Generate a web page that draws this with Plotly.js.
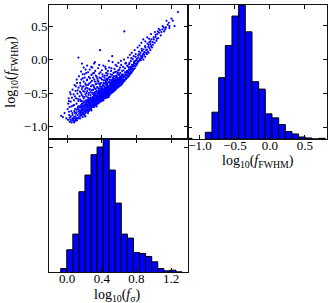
<!DOCTYPE html>
<html><head><meta charset="utf-8">
<script src="https://cdn.plot.ly/plotly-3.0.1.min.js"></script>
<style>html,body{margin:0;padding:0;background:#fff}#chart{width:330px;height:303px}</style>
</head><body><div id="chart"></div>
<script>
// scatter: log10(f_sigma) vs log10(f_FWHM) -- main set
const logSigma = [
-0.07,-0.05,-0.03,-0.01,
0.01,0.02,0.03,0.04,0.05,0.05,0.06,0.02,0.04,0.06,0.03,0.07,
0.08,0.09,0.10,0.11,0.12,0.13,0.08,0.09,0.10,0.11,0.12,0.13,0.14,0.12,0.13,0.10,0.14,0.11,0.09,0.13,
0.15,0.15,0.15,0.15,0.16,0.16,0.16,0.16,0.16,0.17,0.17,0.17,0.17,0.17,0.18,0.18,0.18,0.18,0.18,0.18,0.19,0.19,0.19,0.19,0.19,0.20,0.20,0.20,0.20,0.20,0.20,0.21,0.21,0.21,0.21,0.21,0.15,0.17,0.19,0.21,
0.22,0.22,0.22,0.22,0.22,0.22,0.23,0.23,0.23,0.23,0.23,0.23,0.24,0.24,0.24,0.24,0.24,0.24,0.25,0.25,0.25,0.25,0.25,0.25,0.26,0.26,0.26,0.26,0.26,0.26,0.27,0.27,0.27,0.27,0.27,0.27,0.28,0.28,0.28,0.28,0.28,0.28,0.22,0.24,0.26,0.23,0.25,0.27,
0.29,0.29,0.29,0.29,0.29,0.29,0.29,0.30,0.30,0.30,0.30,0.30,0.30,0.30,0.31,0.31,0.31,0.31,0.31,0.31,0.31,0.32,0.32,0.32,0.32,0.32,0.32,0.32,0.33,0.33,0.33,0.33,0.33,0.33,0.33,0.34,0.34,0.34,0.34,0.34,0.34,0.34,0.35,0.35,0.35,0.35,0.35,0.35,0.29,0.30,0.31,0.32,0.33,0.34,0.35,0.31,
0.36,0.36,0.36,0.36,0.36,0.36,0.36,0.37,0.37,0.37,0.37,0.37,0.37,0.37,0.38,0.38,0.38,0.38,0.38,0.38,0.38,0.39,0.39,0.39,0.39,0.39,0.39,0.39,0.40,0.40,0.40,0.40,0.40,0.40,0.40,0.41,0.41,0.41,0.41,0.41,0.41,0.41,0.42,0.42,0.42,0.42,0.42,0.42,0.36,0.37,0.38,0.39,0.40,0.41,0.42,0.37,0.39,0.40,0.41,0.38,
0.43,0.43,0.43,0.43,0.43,0.43,0.43,0.44,0.44,0.44,0.44,0.44,0.44,0.44,0.45,0.45,0.45,0.45,0.45,0.45,0.45,0.46,0.46,0.46,0.46,0.46,0.46,0.46,0.47,0.47,0.47,0.47,0.47,0.47,0.47,0.48,0.48,0.48,0.48,0.48,0.48,0.48,0.49,0.49,0.49,0.49,0.49,0.49,0.43,0.44,0.45,0.46,0.47,0.48,0.49,0.44,0.46,0.48,0.45,0.47,0.43,0.49,0.46,0.44,
0.50,0.50,0.50,0.50,0.50,0.50,0.51,0.51,0.51,0.51,0.51,0.51,0.52,0.52,0.52,0.52,0.52,0.52,0.53,0.53,0.53,0.53,0.53,0.53,0.54,0.54,0.54,0.54,0.54,0.54,0.55,0.55,0.55,0.55,0.55,0.55,0.56,0.56,0.56,0.56,0.56,0.56,0.50,0.52,0.54,0.51,0.53,0.55,0.52,0.56,
0.57,0.57,0.57,0.57,0.57,0.58,0.58,0.58,0.58,0.58,0.59,0.59,0.59,0.59,0.59,0.60,0.60,0.60,0.60,0.61,0.61,0.61,0.61,0.61,0.62,0.62,0.62,0.62,0.63,0.63,0.63,0.63,0.60,0.62,
0.64,0.64,0.64,0.65,0.65,0.65,0.66,0.66,0.66,0.67,0.67,0.67,0.68,0.68,0.68,0.69,0.69,0.70,0.70,0.70,
0.71,0.71,0.71,0.72,0.72,0.72,0.73,0.73,0.74,0.74,0.74,0.75,0.75,0.76,0.76,0.77,0.77,
0.78,0.78,0.79,0.79,0.80,0.80,0.81,0.82,0.82,0.83,0.83,0.84,
0.85,0.85,0.86,0.86,0.87,0.88,0.88,0.89,0.90,0.90,0.91,
0.92,0.92,0.93,0.94,0.94,0.95,0.96,0.96,0.97,0.98,
0.99,1.00,1.01,1.02,1.03,1.04,1.05,1.06,1.08,1.10,1.12,1.14,1.16,1.18,1.18,1.22,1.24,1.28
];
const logFwhm = [
-0.84,-0.86,-0.80,-0.88,
-0.90,-0.78,-0.93,-0.85,-0.94,-0.70,-0.88,-0.62,-0.52,-0.80,-0.87,-0.91,
-0.86,-0.80,-0.90,-0.75,-0.83,-0.78,-0.68,-0.55,-0.40,-0.88,-0.72,-0.62,-0.85,-0.46,0.03,-0.81,-0.76,-0.30,-0.92,-0.70,
-0.80,-0.72,-0.60,-0.35,-0.84,-0.76,-0.68,-0.50,-0.18,-0.82,-0.74,-0.70,-0.62,-0.44,-0.79,-0.73,-0.66,-0.55,-0.28,-0.86,-0.81,-0.75,-0.69,-0.58,-0.40,-0.83,-0.77,-0.71,-0.64,-0.48,-0.22,-0.80,-0.74,-0.67,-0.52,-0.36,-0.88,-0.06,-0.12,-0.85,
-0.78,-0.70,-0.63,-0.55,-0.42,-0.20,-0.76,-0.68,-0.61,-0.47,-0.30,-0.09,-0.74,-0.69,-0.64,-0.57,-0.38,-0.80,-0.72,-0.66,-0.60,-0.50,-0.26,-0.77,-0.70,-0.65,-0.58,-0.44,-0.15,-0.75,-0.73,-0.67,-0.62,-0.53,-0.34,-0.69,-0.71,-0.64,-0.59,-0.46,-0.23,-0.76,-0.66,-0.61,-0.68,-0.72,-0.63,-0.57,
-0.70,-0.64,-0.58,-0.50,-0.38,-0.12,-0.61,-0.68,-0.62,-0.56,-0.45,-0.27,-0.66,-0.59,-0.71,-0.65,-0.60,-0.53,-0.41,-0.20,-0.57,-0.69,-0.63,-0.58,-0.49,-0.33,-0.04,-0.61,-0.67,-0.62,-0.55,-0.44,-0.24,-0.59,-0.64,-0.70,-0.60,-0.54,-0.47,-0.36,-0.57,-0.63,-0.66,-0.61,-0.56,-0.50,-0.29,-0.58,-0.67,-0.52,-0.62,-0.54,-0.51,-0.65,-0.42,-0.06,
-0.64,-0.59,-0.54,-0.47,-0.33,-0.56,-0.61,-0.62,-0.57,-0.52,-0.43,-0.21,-0.55,-0.60,-0.63,-0.58,-0.53,-0.46,-0.37,-0.55,0.14,-0.61,-0.56,-0.51,-0.44,-0.28,-0.53,-0.58,-0.62,-0.57,-0.50,-0.41,-0.16,-0.54,-0.59,-0.60,-0.55,-0.49,-0.39,-0.25,-0.52,-0.57,-0.61,-0.56,-0.48,-0.35,-0.53,-0.58,-0.50,-0.48,-0.60,-0.47,-0.45,-0.44,-0.51,-0.08,-0.62,-0.52,-0.58,-0.50,
-0.57,-0.52,-0.47,-0.40,-0.27,-0.50,-0.55,-0.58,-0.53,-0.48,-0.42,-0.31,-0.11,-0.51,-0.56,-0.51,-0.46,-0.38,-0.20,-0.49,-0.54,-0.55,-0.50,-0.45,-0.36,-0.24,-0.48,-0.53,-0.56,-0.49,-0.44,-0.39,-0.29,-0.47,-0.52,-0.54,-0.48,-0.43,-0.34,-0.02,-0.46,-0.51,-0.53,-0.47,-0.42,-0.33,-0.45,-0.50,-0.44,-0.45,-0.43,-0.41,-0.41,-0.40,-0.39,-0.56,-0.57,-0.56,-0.33,-0.17,-0.36,-0.26,-0.47,-0.49,
-0.51,-0.46,-0.41,-0.35,-0.22,-0.44,-0.50,-0.45,-0.40,-0.31,-0.13,-0.43,-0.49,-0.44,-0.38,-0.30,-0.41,-0.47,-0.48,-0.42,-0.37,-0.27,-0.40,-0.45,-0.47,-0.41,-0.36,-0.25,-0.39,-0.44,-0.46,-0.40,-0.34,-0.19,-0.38,-0.43,-0.45,-0.39,-0.33,-0.28,-0.36,-0.42,-0.38,-0.35,-0.32,-0.36,-0.33,-0.30,0.05,-0.08,
-0.43,-0.38,-0.33,-0.26,-0.36,-0.42,-0.37,-0.31,-0.21,-0.34,-0.41,-0.35,-0.30,-0.16,-0.33,-0.40,-0.34,-0.28,-0.32,-0.39,-0.33,-0.27,-0.12,-0.30,-0.38,-0.32,-0.25,-0.29,-0.37,-0.31,-0.23,-0.28,-0.22,-0.02,
-0.35,-0.30,-0.24,-0.33,-0.27,-0.16,-0.32,-0.25,0.42,-0.30,-0.22,-0.06,-0.29,-0.23,-0.19,-0.27,-0.20,-0.26,-0.18,-0.10,
-0.25,-0.19,-0.12,-0.23,-0.16,-0.05,-0.21,-0.14,-0.20,-0.12,0.02,-0.18,-0.10,-0.16,-0.08,-0.14,-0.03,
-0.13,-0.06,-0.10,0.04,-0.08,-0.01,-0.06,-0.03,0.06,-0.02,0.12,0.01,
-0.01,0.06,0.02,0.16,0.04,0.00,0.09,0.07,0.04,0.20,0.10,
0.08,0.15,0.12,0.22,0.10,0.17,0.14,0.27,0.20,0.18,
0.22,0.30,0.25,0.34,0.28,0.38,0.32,0.40,0.36,0.45,0.42,0.48,0.52,0.47,0.50,0.58,0.50,0.71
];
// extra points in the dense band, [log10 f_sigma, log10 f_FWHM]
const bandPairs = [
[0.022,-0.83],[0.037,-0.90],[0.058,-0.91],[0.078,-0.94],[0.089,-0.88],[0.112,-0.91],[0.134,-0.88],
[0.062,-0.83],[0.071,-0.89],[0.083,-0.77],[0.094,-0.85],[0.106,-0.79],[0.117,-0.87],[0.128,-0.74],[0.139,-0.81],
[0.144,-0.70],[0.151,-0.77],[0.157,-0.83],[0.162,-0.71],[0.166,-0.79],[0.172,-0.66],[0.177,-0.76],[0.183,-0.82],
[0.188,-0.70],[0.193,-0.63],[0.198,-0.78],[0.204,-0.68],[0.209,-0.73],[0.214,-0.61],[0.219,-0.76],[0.226,-0.67],
[0.231,-0.71],[0.237,-0.64],[0.243,-0.77],[0.248,-0.69],[0.254,-0.62],[0.259,-0.72],[0.265,-0.66],[0.271,-0.59],
[0.276,-0.74],[0.282,-0.68],[0.287,-0.62],[0.293,-0.56],[0.298,-0.71],[0.304,-0.64],[0.309,-0.58],[0.315,-0.67],
[0.321,-0.53],[0.326,-0.65],[0.332,-0.60],[0.337,-0.56],[0.343,-0.67],[0.348,-0.62],[0.354,-0.53],[0.359,-0.60],
[0.365,-0.65],[0.371,-0.55],[0.376,-0.50],[0.382,-0.61],[0.387,-0.57],[0.393,-0.49],[0.398,-0.60],[0.404,-0.55],
[0.409,-0.47],[0.415,-0.58],[0.421,-0.53],[0.426,-0.45],[0.432,-0.56],[0.437,-0.51],[0.443,-0.44],[0.448,-0.55],
[0.454,-0.49],[0.459,-0.42],[0.465,-0.53],[0.471,-0.47],[0.476,-0.41],[0.482,-0.52],[0.487,-0.45],[0.493,-0.40],
[0.498,-0.49],[0.504,-0.43],[0.509,-0.37],[0.515,-0.47],[0.521,-0.42],[0.526,-0.35],[0.532,-0.45],[0.537,-0.39],
[0.543,-0.33],[0.548,-0.43],[0.554,-0.37],[0.559,-0.41],[0.565,-0.35],[0.571,-0.30],[0.576,-0.40],[0.582,-0.33],
[0.587,-0.28],[0.593,-0.38],[0.598,-0.31],[0.604,-0.36],[0.609,-0.26],[0.615,-0.34],[0.621,-0.29],[0.627,-0.35],
[0.632,-0.26],[0.638,-0.32],[0.643,-0.22],[0.649,-0.30],[0.654,-0.25],[0.661,-0.31],[0.667,-0.19],[0.673,-0.27],
[0.678,-0.23],[0.684,-0.28],[0.692,-0.17],[0.698,-0.24],[0.705,-0.21],[0.712,-0.15],[0.719,-0.20],[0.727,-0.11],
[0.733,-0.18],[0.741,-0.15],[0.748,-0.08],[0.756,-0.13],[0.763,-0.10],[0.771,-0.05],[0.778,-0.09],[0.786,-0.02],
[0.795,-0.06],[0.804,0.01],[0.812,-0.04],[0.821,0.03],[0.829,0.08],[0.838,0.00],[0.846,0.10],[0.855,0.04],
[0.864,0.13],[0.873,0.07],[0.882,0.15],[0.891,0.11],[0.903,0.18],[0.914,0.14],[0.926,0.24],[0.937,0.19],
[0.949,0.26],[0.961,0.23],[0.973,0.30],[0.986,0.26],[0.998,0.33],[1.021,0.37],[1.034,0.31],[1.047,0.42],
[1.071,0.44],[1.088,0.41],[1.115,0.48],[1.132,0.45],[1.173,0.55],[1.205,0.61]
];
// extra points in the sparse cloud above the band
const haloPairs = [
[0.005,-0.74],[0.012,-0.66],[0.018,-0.58],[0.027,-0.71],[0.033,-0.49],[0.041,-0.63],[0.047,-0.77],[0.055,-0.57],
[0.062,-0.45],[0.068,-0.69],[0.074,-0.52],[0.079,-0.61],[0.085,-0.38],[0.091,-0.74],[0.097,-0.47],[0.103,-0.58],
[0.108,-0.66],[0.114,-0.35],[0.119,-0.51],[0.125,-0.59],[0.131,-0.42],[0.136,-0.25],[0.142,-0.55],[0.147,-0.48],
[0.153,-0.39],[0.158,-0.62],[0.163,-0.30],[0.168,-0.53],[0.174,-0.41],[0.179,-0.22],[0.185,-0.47],[0.191,-0.33],
[0.196,-0.56],[0.202,-0.27],[0.207,-0.44],[0.213,-0.15],[0.218,-0.38],[0.224,-0.50],[0.229,-0.31],[0.235,-0.43],
[0.241,-0.19],[0.246,-0.53],[0.252,-0.36],[0.257,-0.45],[0.263,-0.28],[0.268,-0.49],[0.274,-0.40],[0.279,-0.11],
[0.285,-0.32],[0.291,-0.46],[0.296,-0.21],[0.302,-0.39],[0.307,-0.50],[0.313,-0.30],[0.318,-0.43],[0.324,-0.17],
[0.329,-0.37],[0.335,-0.48],[0.341,-0.26],[0.346,-0.41],[0.352,-0.32],[0.357,-0.13],[0.363,-0.44],[0.368,-0.36],
[0.374,-0.27],[0.379,-0.40],[0.385,-0.19],[0.391,-0.35],[0.396,-0.42],[0.402,-0.30],[0.407,-0.22],[0.413,-0.38],
[0.418,-0.09],[0.424,-0.31],[0.429,-0.41],[0.435,-0.24],[0.441,-0.35],[0.446,-0.14],[0.452,-0.29],[0.457,-0.37],
[0.463,-0.31],[0.468,-0.21],[0.474,-0.34],[0.479,-0.27],[0.485,-0.12],[0.491,-0.30],[0.496,-0.36],[0.502,-0.26],
[0.507,-0.17],[0.513,-0.32],[0.518,-0.23],[0.524,-0.04],[0.529,-0.28],[0.535,-0.20],[0.541,-0.30],[0.546,-0.14],
[0.552,-0.25],[0.557,-0.31],[0.563,-0.18],[0.568,-0.24],[0.574,-0.10],[0.579,-0.27],[0.585,-0.19],[0.591,-0.05],
[0.596,-0.23],[0.602,-0.15],[0.613,-0.20],[0.624,-0.08],[0.635,-0.17],[0.646,-0.11],[0.657,0.00],[0.668,-0.13],
[0.679,-0.05],[0.691,-0.09],[0.702,0.03],[0.713,-0.07],[0.724,0.07],[0.735,-0.02],[0.746,0.10],[0.757,0.01],
[0.768,0.05],[0.779,0.14],[0.791,0.08],[0.813,0.18],[0.835,0.21],[0.857,0.25],[0.879,0.30],[0.902,0.27],
[0.924,0.33],[0.946,0.31],[0.968,0.38],[1.013,0.41],[1.057,0.46],[1.102,0.50],[1.147,0.58]
];
// histogram of log10(f_FWHM)
const fwhmBinCenters = [-1.161,-0.876,-0.781,-0.685,-0.590,-0.495,-0.400,-0.304,-0.209,-0.114,-0.019,0.077,0.172,0.267,0.362,0.458,0.553,0.648,0.743];
const fwhmCounts = [2,20,80,183,279,367,400,320,171,149,75,63,43,22,15,6,3,0,2];
// histogram of log10(f_sigma)
const sigmaBinCenters = [-0.040,0.030,0.100,0.170,0.240,0.310,0.380,0.450,0.520,0.590,0.660,0.730,0.800,0.871,0.941,1.011,1.081,1.151,1.221,1.291,1.361];
const sigmaCounts = [12,68,115,242,292,353,376,400,307,208,115,103,60,57,48,32,12,5,7,2,0];
// tick labels
const sigmaTicks = [0.0,0.4,0.8,1.2];
const fwhmTicks = [-1.0,-0.5,0.0,0.5];
const fwhmTitle = 'log<sub>10</sub>(<i>f</i><sub>FWHM</sub>)';
const sigmaTitle = 'log<sub>10</sub>(<i>f</i><sub>σ</sub>)';

const allX = logSigma.concat(bandPairs.map(p => p[0]), haloPairs.map(p => p[0]));
const allY = logFwhm.concat(bandPairs.map(p => p[1]), haloPairs.map(p => p[1]));

const serif = '"Liberation Serif", "DejaVu Serif", serif';
const blue = '#0000ff';
const common = {showline:true, linecolor:'#111', linewidth:1, mirror:'ticks', ticks:'inside', ticklen:4,
  tickwidth:1, tickcolor:'#111', zeroline:false, showgrid:false, fixedrange:true,
  tickfont:{family:serif, size:13, color:'#000'}};
const titleFont = {family:serif, size:14, color:'#000'};

const traces = [
  {type:'scatter', mode:'markers', x:allX, y:allY, xaxis:'x', yaxis:'y',
   marker:{size:2.2, color:blue, line:{width:0}}, hoverinfo:'none'},
  {type:'bar', x:fwhmBinCenters, y:fwhmCounts, width:0.0952, xaxis:'x2', yaxis:'y2',
   marker:{color:blue, line:{color:'#000', width:1}}, hoverinfo:'none'},
  {type:'bar', x:sigmaBinCenters, y:sigmaCounts, width:0.070, xaxis:'x3', yaxis:'y3',
   marker:{color:blue, line:{color:'#000', width:1}}, hoverinfo:'none'}
];

const layout = {
  width:330, height:303, margin:{l:0, r:0, t:0, b:0}, showlegend:false,
  paper_bgcolor:'#fff', plot_bgcolor:'#fff', bargap:0,
  xaxis:Object.assign({}, common, {domain:[0.1485,0.5697], anchor:'y', range:[-0.21,1.395], tickvals:sigmaTicks, showticklabels:false}),
  yaxis:Object.assign({}, common, {domain:[0.5413,0.9835], anchor:'x', range:[-1.187,0.815], tickvals:fwhmTicks, tickformat:'.1f',
    ticklabelstandoff:-2, title:{text:fwhmTitle, font:titleFont, standoff:4}}),
  xaxis2:Object.assign({}, common, {domain:[0.5697,0.9909], anchor:'y2', range:[-1.171,0.815], tickvals:fwhmTicks, tickformat:'.1f',
    ticklabelstandoff:-6}),
  yaxis2:Object.assign({}, common, {domain:[0.5413,0.9835], anchor:'x2', range:[0,400], tickvals:[34,136,238,340], showticklabels:false}),
  xaxis3:Object.assign({}, common, {domain:[0.1485,0.5697], anchor:'y3', range:[-0.21,1.395], tickvals:sigmaTicks, tickformat:'.1f',
    ticklabelstandoff:-6}),
  yaxis3:Object.assign({}, common, {domain:[0.1007,0.5413], anchor:'x3', range:[0,400], tickvals:[375], showticklabels:false}),
  annotations:[
    {text:fwhmTitle, xref:'paper', yref:'paper', x:0.782, y:0.5017, xanchor:'center', yanchor:'top', showarrow:false, font:titleFont},
    {text:sigmaTitle, xref:'paper', yref:'paper', x:0.355, y:0.0578, xanchor:'center', yanchor:'top', showarrow:false, font:titleFont}
  ]
};

Plotly.newPlot('chart', traces, layout, {displayModeBar:false, staticPlot:true});
</script>
</body></html>
